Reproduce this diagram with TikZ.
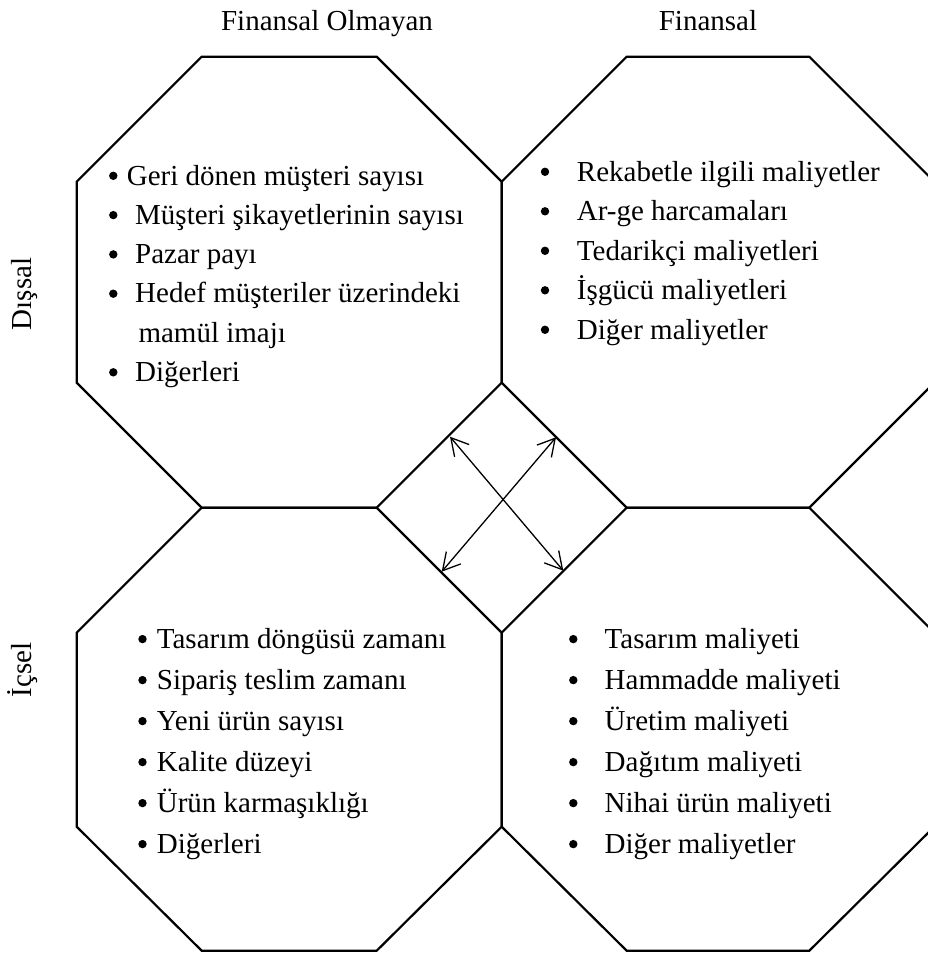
\documentclass[tikz,border=0pt]{standalone}
\usepackage{fontspec}
\setmainfont{Liberation Serif}
\usetikzlibrary{arrows.meta}
\begin{document}
\begin{tikzpicture}[x=1pt,y=-1pt,
  oct/.style={draw, line width=2.2pt, line join=miter},
  txt/.style={anchor=base west, inner sep=0pt, font=\fontsize{29}{35}\selectfont},
  bul/.style={circle, fill, inner sep=0pt, minimum size=8.4pt, yshift=9.2pt},
  lab/.style={anchor=base, inner sep=0pt, font=\fontsize{29}{35}\selectfont},
  dbl/.style={line width=1.3pt, {Straight Barb[length=17pt,width=19pt]}-{Straight Barb[length=17pt,width=19pt]}}
]
\useasboundingbox (0,0) rectangle (928,953);
\fill[white] (0,0) rectangle (928,953);
\clip (0,0) rectangle (928,953);

% octagons
\draw[oct] (76.7,181.7) -- (201.7,56.7) -- (376.7,56.7) -- (501.7,181.7) -- (501.7,382.7) -- (376.7,507.7) -- (201.7,507.7) -- (76.7,382.7) -- cycle;
\draw[oct] (501.7,181.7) -- (626.7,56.7) -- (809.3,56.7) -- (934.3,181.7) -- (934.3,382.7) -- (809.3,507.7) -- (626.7,507.7) -- (501.7,382.7) -- cycle;
\draw[oct] (76.7,632.7) -- (201.7,507.7) -- (376.7,507.7) -- (501.7,632.7) -- (501.7,826.7) -- (376.7,950.7) -- (201.7,950.7) -- (76.7,826.7) -- cycle;
\draw[oct] (501.7,632.7) -- (626.7,507.7) -- (809.3,507.7) -- (934.3,632.7) -- (934.3,826.7) -- (809.3,950.7) -- (626.7,950.7) -- (501.7,826.7) -- cycle;

% arrows in the central diamond
\coordinate (a1s) at (450,436.7);
\coordinate (a1e) at (563.3,570.7);
\coordinate (a2s) at (556,437.3);
\coordinate (a2e) at (441.7,571.7);
\draw[dbl] (a1s) -- (a1e);
\draw[dbl] (a2s) -- (a2e);

% headers
\node[lab] (hfo) at (327,30) {Finansal Olmayan};
\node[lab] (hf) at (708,30) {Finansal};
\node[lab, rotate=90] (hd) at (31,294) {Dışsal};
\node[lab, rotate=90] (hi) at (31,670) {İçsel};

% top-left
\node[bul] (tlb1) at (113.3,185) {};
\node[txt] (tl1) at (126.7,185) {Geri dönen müşteri sayısı};
\foreach \n/\y/\t in {2/224.3/Müşteri şikayetlerinin sayısı, 3/263.6/Pazar payı, 4/302.9/Hedef müşteriler üzerindeki, 6/381.5/Diğerleri}{
  \node[bul] (tlb\n) at (113.3,\y) {};
  \node[txt] (tl\n) at (135,\y) {\t};
}
\node[txt] (tl5) at (138.3,342.2) {mamül imajı};

% top-right
\foreach \n/\y/\t in {1/181/Rekabetle ilgili maliyetler, 2/220.5/Ar-ge harcamaları, 3/260/Tedarikçi maliyetleri, 4/299.5/İşgücü maliyetleri, 5/339/Diğer maliyetler}{
  \node[bul] (trb\n) at (545,\y) {};
  \node[txt] (tr\n) at (576.7,\y) {\t};
}

% bottom-left
\foreach \n/\y/\t in {1/648.3/Tasarım döngüsü zamanı, 2/689.3/Sipariş teslim zamanı, 3/730.3/Yeni ürün sayısı, 4/771.3/Kalite düzeyi, 5/812.3/Ürün karmaşıklığı, 6/853.3/Diğerleri}{
  \node[bul] (blb\n) at (142.5,\y) {};
  \node[txt] (bl\n) at (156.7,\y) {\t};
}

% bottom-right
\foreach \n/\y/\t in {1/648.3/Tasarım maliyeti, 2/689.3/Hammadde maliyeti, 3/730.3/Üretim maliyeti, 4/771.3/Dağıtım maliyeti, 5/812.3/Nihai ürün maliyeti, 6/853.3/Diğer maliyetler}{
  \node[bul] (brb\n) at (573.3,\y) {};
  \node[txt] (br\n) at (604.5,\y) {\t};
}
\end{tikzpicture}
\end{document}
